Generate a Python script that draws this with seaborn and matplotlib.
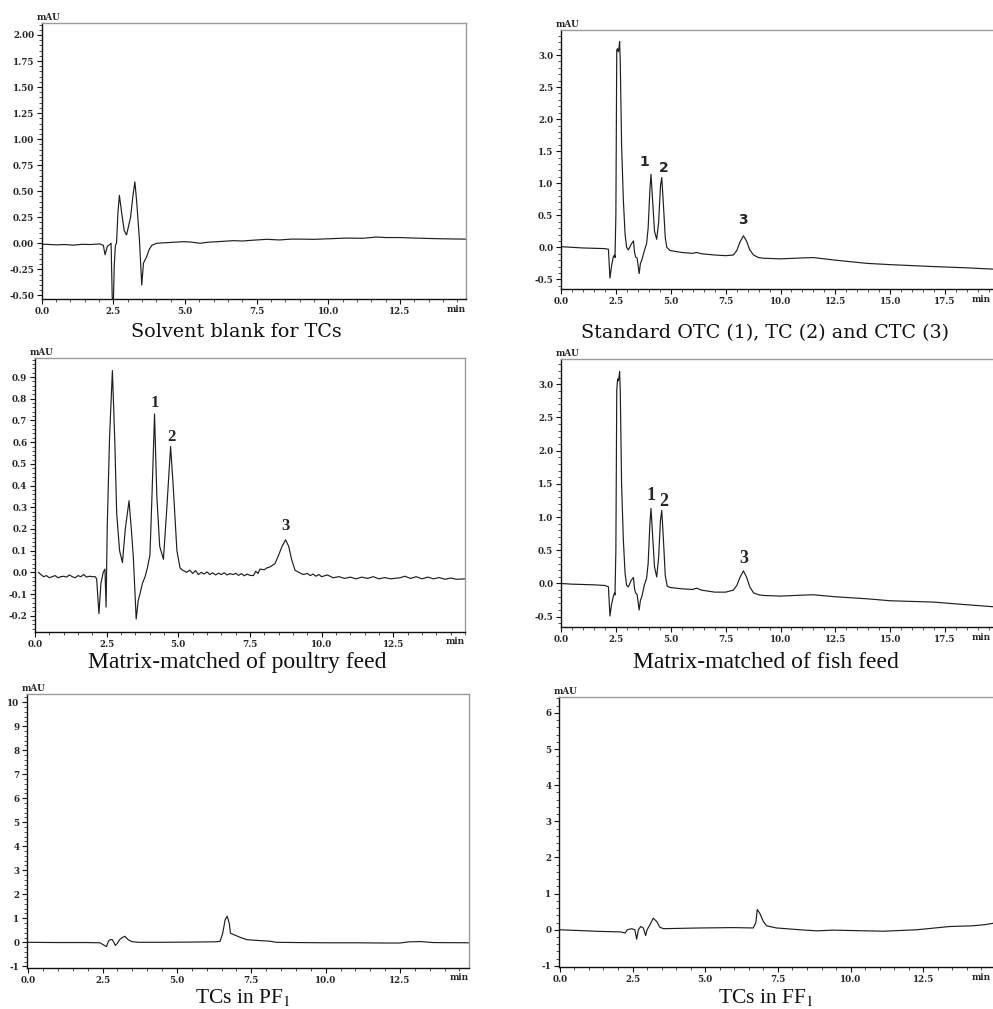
import numpy as np
import pandas as pd
import matplotlib
matplotlib.use("Agg")
import matplotlib.pyplot as plt
import seaborn as sns
from matplotlib.ticker import MultipleLocator, FixedLocator

# ---------------- data (time in min, signal in mAU) ----------------
blank_trace = [(0.0, -0.01), (0.17, -0.01), (0.5, -0.015), (0.8, -0.012), (1.1, -0.018), (1.4, -0.01),
               (1.7, -0.012), (2.03, -0.006), (2.15, -0.02), (2.21, -0.11), (2.29, -0.03), (2.42, 0.0),
               (2.46, -0.52), (2.50, -0.58), (2.53, -0.22), (2.57, -0.02), (2.61, 0.0), (2.66, 0.30),
               (2.71, 0.46), (2.79, 0.29), (2.88, 0.12), (2.96, 0.08), (3.10, 0.25), (3.18, 0.45),
               (3.25, 0.59), (3.31, 0.41), (3.41, 0.03), (3.49, -0.40), (3.55, -0.19), (3.66, -0.13),
               (3.75, -0.06), (3.84, -0.02), (4.01, 0.0), (4.3, 0.005), (4.6, 0.01), (4.94, 0.015),
               (5.2, 0.012), (5.52, 0.0), (5.8, 0.01), (6.1, 0.015), (6.4, 0.02), (6.68, 0.025),
               (7.0, 0.022), (7.4, 0.03), (7.85, 0.038), (8.3, 0.032), (8.7, 0.04), (9.01, 0.04),
               (9.5, 0.038), (10.17, 0.045), (10.6, 0.05), (11.2, 0.048), (11.68, 0.06), (12.0, 0.055),
               (12.5, 0.055), (13.0, 0.05), (13.66, 0.045), (14.2, 0.042), (14.79, 0.04)]

standard_trace = [(0.0, 0.01), (0.5, 0.0), (1.0, -0.01), (1.5, -0.015), (2.0, -0.02), (2.16, -0.03),
                  (2.23, -0.48), (2.30, -0.30), (2.38, -0.15), (2.44, -0.12), (2.46, -0.16), (2.50, 0.5),
                  (2.54, 3.08), (2.58, 3.10), (2.61, 3.05), (2.64, 3.10), (2.67, 3.21), (2.70, 2.9),
                  (2.76, 1.6), (2.84, 0.74), (2.92, 0.2), (2.99, 0.0), (3.07, -0.04), (3.20, 0.05),
                  (3.30, 0.10), (3.35, -0.08), (3.40, -0.15), (3.47, -0.17), (3.56, -0.41), (3.62, -0.25),
                  (3.68, -0.20), (3.80, -0.05), (3.90, 0.06), (3.97, 0.3), (4.05, 0.9), (4.10, 1.14),
                  (4.16, 0.8), (4.26, 0.25), (4.36, 0.125), (4.45, 0.4), (4.53, 0.95), (4.59, 1.09),
                  (4.66, 0.7), (4.75, 0.15), (4.82, 0.0), (4.97, -0.05), (5.5, -0.08), (6.0, -0.094),
                  (6.18, -0.08), (6.4, -0.10), (7.0, -0.12), (7.5, -0.13), (7.85, -0.12), (8.01, -0.05),
                  (8.15, 0.08), (8.31, 0.18), (8.45, 0.10), (8.60, -0.04), (8.77, -0.12), (9.0, -0.16),
                  (9.22, -0.17), (10.0, -0.18), (11.0, -0.165), (11.5, -0.16), (12.5, -0.2), (13.93, -0.25),
                  (15.0, -0.27), (16.97, -0.30), (18.5, -0.32), (19.69, -0.34), (20.0, -0.345)]

poultry_trace = [(0.12, 0.0), (0.2, -0.01), (0.3, -0.02), (0.4, -0.015), (0.5, -0.025), (0.6, -0.02),
                 (0.7, -0.015), (0.8, -0.025), (0.9, -0.02), (1.0, -0.018), (1.1, -0.022), (1.2, -0.012),
                 (1.3, -0.02), (1.4, -0.025), (1.5, -0.015), (1.6, -0.02), (1.7, -0.01), (1.8, -0.022),
                 (1.9, -0.018), (2.0, -0.02), (2.1, -0.02), (2.15, -0.03), (2.23, -0.19), (2.30, -0.05),
                 (2.38, 0.0), (2.44, 0.015), (2.48, -0.16), (2.52, 0.21), (2.60, 0.62), (2.70, 0.93),
                 (2.78, 0.62), (2.85, 0.27), (2.95, 0.10), (3.05, 0.045), (3.15, 0.20), (3.28, 0.33),
                 (3.36, 0.20), (3.43, 0.07), (3.53, -0.215), (3.60, -0.13), (3.66, -0.10), (3.75, -0.05),
                 (3.84, -0.02), (3.92, 0.02), (4.01, 0.08), (4.08, 0.35), (4.17, 0.73), (4.25, 0.35),
                 (4.35, 0.12), (4.48, 0.06), (4.60, 0.30), (4.73, 0.58), (4.82, 0.40), (4.95, 0.10),
                 (5.06, 0.02), (5.15, 0.01), (5.29, 0.0), (5.4, 0.01), (5.5, -0.005), (5.6, 0.008),
                 (5.7, -0.01), (5.8, 0.0), (5.9, -0.008), (6.0, 0.002), (6.1, -0.01), (6.2, -0.002),
                 (6.3, -0.012), (6.4, -0.004), (6.5, -0.01), (6.6, -0.002), (6.7, -0.012), (6.8, -0.006),
                 (6.92, -0.01), (7.0, -0.004), (7.1, -0.014), (7.2, -0.006), (7.3, -0.016), (7.4, -0.008),
                 (7.5, -0.014), (7.62, -0.015), (7.7, 0.005), (7.78, -0.005), (7.85, 0.015), (8.0, 0.012),
                 (8.08, 0.02), (8.2, 0.025), (8.37, 0.04), (8.5, 0.08), (8.62, 0.12), (8.74, 0.15),
                 (8.85, 0.12), (8.95, 0.06), (9.07, 0.01), (9.2, 0.0), (9.36, -0.01), (9.5, -0.005),
                 (9.6, -0.015), (9.7, -0.008), (9.8, -0.018), (9.9, -0.01), (10.0, -0.02), (10.2, -0.012),
                 (10.4, -0.025), (10.6, -0.02), (10.8, -0.028), (11.0, -0.022), (11.2, -0.03), (11.4, -0.022),
                 (11.6, -0.028), (11.8, -0.02), (12.0, -0.03), (12.2, -0.024), (12.4, -0.03), (12.73, -0.025),
                 (12.9, -0.018), (13.1, -0.028), (13.3, -0.02), (13.5, -0.03), (13.7, -0.022), (13.9, -0.03),
                 (14.1, -0.024), (14.3, -0.032), (14.5, -0.026), (14.7, -0.032), (15.0, -0.03)]

fish_trace = [(0.0, 0.0), (0.5, -0.01), (1.0, -0.015), (1.5, -0.02), (2.0, -0.03), (2.16, -0.05),
              (2.23, -0.49), (2.30, -0.32), (2.38, -0.20), (2.44, -0.14), (2.46, -0.17), (2.50, 0.5),
              (2.54, 2.91), (2.58, 3.08), (2.61, 3.05), (2.64, 3.10), (2.67, 3.19), (2.70, 2.9),
              (2.76, 1.5), (2.84, 0.66), (2.92, 0.15), (2.99, -0.03), (3.07, -0.05), (3.20, 0.05),
              (3.30, 0.09), (3.35, -0.08), (3.40, -0.14), (3.47, -0.17), (3.56, -0.40), (3.62, -0.25),
              (3.68, -0.20), (3.80, -0.02), (3.90, 0.08), (3.97, 0.3), (4.05, 0.9), (4.10, 1.13),
              (4.16, 0.8), (4.26, 0.25), (4.36, 0.10), (4.45, 0.4), (4.53, 0.95), (4.59, 1.10),
              (4.66, 0.7), (4.75, 0.12), (4.84, -0.04), (4.97, -0.06), (5.5, -0.08), (6.0, -0.09),
              (6.18, -0.07), (6.4, -0.10), (7.0, -0.13), (7.5, -0.13), (7.85, -0.10), (8.01, -0.03),
              (8.15, 0.09), (8.31, 0.19), (8.45, 0.10), (8.60, -0.05), (8.77, -0.14), (9.0, -0.17),
              (9.22, -0.18), (10.0, -0.19), (11.0, -0.175), (11.5, -0.17), (12.5, -0.2), (13.93, -0.23),
              (15.0, -0.26), (16.97, -0.28), (18.5, -0.32), (19.69, -0.35), (20.0, -0.355)]

pf1_trace = [(0.0, 0.0), (1.0, -0.01), (2.0, -0.01), (2.41, -0.02), (2.52, -0.10), (2.63, -0.18),
             (2.70, 0.05), (2.75, 0.10), (2.82, 0.12), (2.88, 0.0), (2.93, -0.13), (2.99, -0.05),
             (3.08, 0.12), (3.14, 0.18), (3.25, 0.25), (3.36, 0.11), (3.48, 0.03), (3.7, 0.0),
             (4.5, 0.0), (5.5, 0.01), (6.3, 0.02), (6.45, 0.04), (6.54, 0.38), (6.62, 0.93),
             (6.69, 1.09), (6.76, 0.79), (6.80, 0.38), (6.89, 0.33), (7.12, 0.21), (7.35, 0.11),
             (7.79, 0.07), (8.1, 0.05), (8.35, 0.0), (9.0, -0.01), (10.0, -0.02), (11.0, -0.02),
             (12.0, -0.03), (12.5, -0.03), (12.8, 0.02), (13.2, 0.03), (13.6, -0.01), (14.82, -0.02)]

ff1_trace = [(0.0, 0.0), (1.38, -0.045), (2.1, -0.06), (2.24, -0.09), (2.32, 0.0), (2.47, 0.03),
             (2.58, 0.0), (2.64, -0.26), (2.70, 0.0), (2.78, 0.09), (2.87, 0.05), (2.95, -0.16),
             (3.0, 0.0), (3.1, 0.14), (3.21, 0.32), (3.33, 0.23), (3.44, 0.07), (3.56, 0.03),
             (4.82, 0.05), (5.96, 0.06), (6.65, 0.05), (6.74, 0.19), (6.79, 0.56), (6.88, 0.45),
             (7.0, 0.23), (7.11, 0.11), (7.45, 0.05), (8.26, 0.0), (8.83, -0.03), (9.4, -0.01),
             (11.12, -0.04), (12.27, 0.0), (13.41, 0.09), (14.2, 0.11), (14.6, 0.14), (15.14, 0.21)]

captions = ["Solvent blank for TCs", "Standard OTC (1), TC (2) and CTC (3)",
            "Matrix-matched of poultry feed", "Matrix-matched of fish feed",
            "TCs in PF$_1$", "TCs in FF$_1$"]

peak_labels = ["1", "2", "3"]
peak_times_std = [4.10, 4.59, 8.31]
peak_times_poultry = [4.17, 4.73, 8.74]
peak_times_fish = [4.10, 4.59, 8.31]

# ---------------- figure ----------------
sns.set_theme(style="white")
plt.rcParams["font.family"] = ["DejaVu Serif"]
plt.rcParams["mathtext.fontset"] = "stix"

W, H = 993, 1009
fig = plt.figure(figsize=(W / 100, H / 100), dpi=100)


def add_axes(l, t, r, b):
    ax = fig.add_axes([l / W, 1 - b / H, (r - l) / W, (b - t) / H])
    # horizontal fraction at which the "min" label ends (kept inside the figure)
    ax._min_frac = min(1.0, (W - 2 - l) / (r - l))
    return ax


TRACE_COLOR = "#1e1e1e"
TICK_FONT = dict(family="DejaVu Serif", weight="bold", size=6.3)


def draw(ax, trace, xlim, ylim, xticks, xminor, yticks, ylabels, yminor):
    df = pd.DataFrame(trace, columns=["time", "mAU"])
    sns.lineplot(data=df, x="time", y="mAU", ax=ax, color=TRACE_COLOR,
                 linewidth=0.85, estimator=None, sort=False)
    ax.set_xlim(*xlim)
    ax.set_ylim(*ylim)
    ax.set_xlabel("")
    ax.set_ylabel("")
    for s in ["left", "bottom"]:
        ax.spines[s].set_color("#111111")
        ax.spines[s].set_linewidth(1.0)
    for s in ["top", "right"]:
        ax.spines[s].set_color("#9a9a9a")
        ax.spines[s].set_linewidth(1.0)
    ax.xaxis.set_major_locator(FixedLocator(xticks))
    ax.set_xticklabels([f"{v:.1f}" for v in xticks], fontdict=TICK_FONT)
    ax.xaxis.set_minor_locator(MultipleLocator(xminor))
    ax.yaxis.set_major_locator(FixedLocator(yticks))
    ax.set_yticklabels(ylabels, fontdict=TICK_FONT)
    ax.yaxis.set_minor_locator(MultipleLocator(yminor))
    ax.tick_params(which="major", direction="out", length=3.5, width=0.8,
                   color="#111111", pad=2, bottom=True, left=True, top=False, right=False)
    ax.tick_params(which="minor", direction="out", length=2, width=0.6,
                   color="#333333", bottom=True, left=True, top=False, right=False)
    ax.grid(False)
    ax.annotate("mAU", xy=(0, 1), xycoords="axes fraction", xytext=(-5, 1),
                textcoords="offset pixels", ha="left", va="bottom",
                fontsize=6.3, fontweight="bold", family="DejaVu Serif")
    ax.annotate("min", xy=(ax._min_frac, 0), xycoords="axes fraction", xytext=(0, -10),
                textcoords="offset pixels", ha="right", va="center",
                fontsize=6.3, fontweight="bold", family="DejaVu Serif")
    return df


def label_peaks(ax, df, times, offsets, fontdict):
    for lab, t, (dx, dy) in zip(peak_labels, times, offsets):
        y = np.interp(t, df["time"], df["mAU"])
        ax.annotate(lab, xy=(t, y), xytext=(dx, dy), textcoords="offset pixels",
                    ha="center", va="center", **fontdict)


xt15 = [0.0, 2.5, 5.0, 7.5, 10.0, 12.5]
xt20 = [0.0, 2.5, 5.0, 7.5, 10.0, 12.5, 15.0, 17.5]

# Panel 1
ax1 = add_axes(41.7, 23, 465.7, 299)
yt1 = [-0.5, -0.25, 0.0, 0.25, 0.5, 0.75, 1.0, 1.25, 1.5, 1.75, 2.0]
draw(ax1, blank_trace, (0, 14.79), (-0.535, 2.115), xt15, 0.5, yt1,
     [f"{v:.2f}" for v in yt1], 0.05)

# Panel 2
ax2 = add_axes(561, 30, 1000, 289)
yt2 = [-0.5, 0.0, 0.5, 1.0, 1.5, 2.0, 2.5, 3.0]
d2 = draw(ax2, standard_trace, (0, 20.0), (-0.65, 3.39), xt20, 0.5, yt2,
          [f"{v:.1f}" for v in yt2], 0.1)
label_peaks(ax2, d2, peak_times_std, [(-7, 12), (2, 9), (0, 16)],
            dict(fontsize=10, fontweight="bold", family="DejaVu Sans"))

# Panel 3
ax3 = add_axes(35, 358, 465, 632)
yt3 = [-0.2, -0.1, 0.0, 0.1, 0.2, 0.3, 0.4, 0.5, 0.6, 0.7, 0.8, 0.9]
d3 = draw(ax3, poultry_trace, (0, 15.0), (-0.275, 0.988), xt15, 0.5, yt3,
          [f"{v:.1f}" for v in yt3], 0.02)
label_peaks(ax3, d3, peak_times_poultry, [(0, 11), (1, 10), (0, 14)],
            dict(fontsize=12, fontweight="bold", family="Liberation Serif"))

# Panel 4
ax4 = add_axes(561, 359, 1000, 627)
d4 = draw(ax4, fish_trace, (0, 20.0), (-0.655, 3.38), xt20, 0.5, yt2,
          [f"{v:.1f}" for v in yt2], 0.1)
label_peaks(ax4, d4, peak_times_fish, [(0, 13), (2, 9), (0, 12)],
            dict(fontsize=13, fontweight="bold", family="Liberation Serif"))

# Panel 5
ax5 = add_axes(27, 694, 469, 968)
yt5 = list(range(-1, 11))
draw(ax5, pf1_trace, (-0.04, 14.82), (-1.07, 10.34), xt15, 0.5, yt5,
     [str(v) for v in yt5], 0.2)

# Panel 6
ax6 = add_axes(559, 697, 1000, 967)
yt6 = list(range(-1, 7))
draw(ax6, ff1_trace, (-0.03, 15.14), (-1.03, 6.44), xt15, 0.5, yt6,
     [str(v) for v in yt6], 0.2)

# Captions
cap_pos = [(236, 337), (765, 338), (237, 668), (766, 668), (243, 1003), (766, 1003)]
cap_font = [("DejaVu Serif", 13.8), ("DejaVu Serif", 13.8), ("Liberation Serif", 17),
            ("Liberation Serif", 17), ("Liberation Serif", 15.5), ("Liberation Serif", 15.5)]
for text, (cx, cy), (fam, fs) in zip(captions, cap_pos, cap_font):
    fig.text(cx / W, 1 - cy / H, text, ha="center", va="baseline",
             fontsize=fs, family=fam, color="#111111")

fig.savefig("out.png", dpi=100)
